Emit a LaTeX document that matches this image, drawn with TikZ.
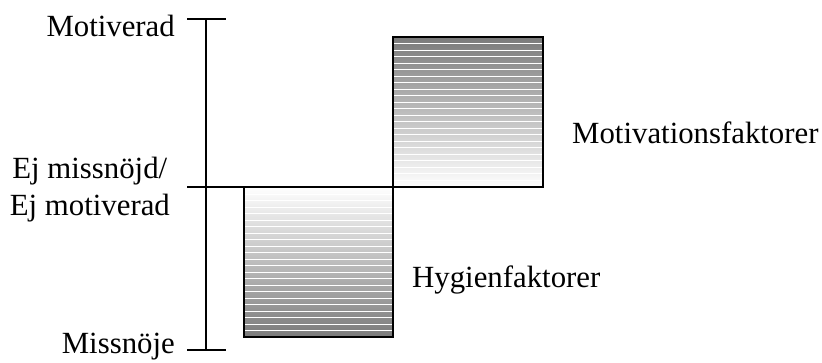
\documentclass[tikz,border=0pt]{standalone}
\usepackage{fontspec}
\setmainfont{Liberation Serif}
\begin{document}
\begin{tikzpicture}[x=1pt,y=-1pt,
  label/.style={inner sep=0pt,font=\fontsize{30.8}{37}\selectfont},
  frame/.style={line width=1.5pt},
  axis/.style={line width=1.2pt},
  stripe/.style={white,line width=0.8pt}]
\useasboundingbox (0,0) rectangle (822,362);

% upper block: motivation factors, dark at the top
\shade[top color=black!52, bottom color=white] (393,37) rectangle (543,187);
\foreach \y in {43.5,50,56.5,...,180} \draw[stripe] (394,\y) -- (542,\y);
\draw[frame] (393,37) rectangle (543,187);

% lower block: hygiene factors, dark at the bottom
\shade[top color=white, bottom color=black!52] (244,187) rectangle (393,337);
\foreach \y in {194,200.5,207,...,332} \draw[stripe] (245,\y) -- (392,\y);
\draw[frame] (244,187) rectangle (393,337);

% scale with ticks
\coordinate (top) at (206,19);
\coordinate (mid) at (206,187);
\coordinate (bot) at (206,350);
\draw[axis] (top) -- (bot);
\draw[axis] (187,19) -- (226,19);
\draw[axis] (187,187) -- (543,187);
\draw[axis] (187,350) -- (226,350);

% texts
\node[label,anchor=base east] (motiverad) at (175,36) {Motiverad};
\node[label,anchor=base east] (missnoje) at (175,353) {Missnöje};
\node[label,anchor=base east,align=center] (neutral) at (170,215) {Ej missnöjd/\\Ej motiverad};
\node[label,anchor=base west] (motfakt) at (572,143) {Motivationsfaktorer};
\node[label,anchor=base west] (hygfakt) at (412,287) {Hygienfaktorer};
\end{tikzpicture}
\end{document}
